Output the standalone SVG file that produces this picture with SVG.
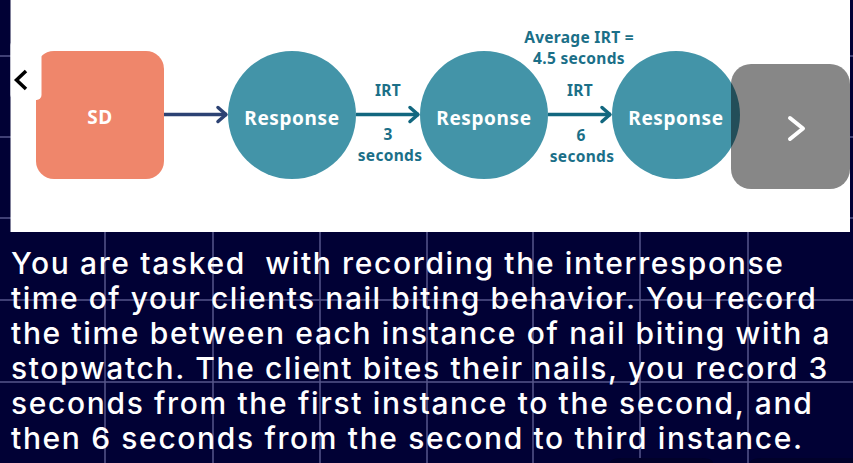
<svg xmlns="http://www.w3.org/2000/svg" width="853" height="463" viewBox="0 0 853 463">
<style>
.grid{stroke:#55558a;stroke-width:1.5;fill:none}
.lbl{font-family:"Noto Sans","Liberation Sans",sans-serif;font-weight:700;font-size:15.500px;letter-spacing:.3px;fill:#1b6f88;text-anchor:middle}
.wh{font-family:"Noto Sans","Liberation Sans",sans-serif;font-weight:700;font-size:19px;letter-spacing:.6px;fill:#fff;text-anchor:middle}
.resp{fill:#4394a8}
.body{font-family:Inter,"Liberation Sans",sans-serif;font-weight:500;font-size:30px;fill:#fff;letter-spacing:1.640px}
</style>
<defs>
<marker id="a1" markerWidth="14" markerHeight="20" refX="12" refY="10" orient="auto" markerUnits="userSpaceOnUse"><path d="M3 3L11 10L3 17" fill="none" stroke="#2c4273" stroke-width="3.500" stroke-linecap="round" stroke-linejoin="round"/></marker>
<marker id="a2" markerWidth="14" markerHeight="20" refX="12" refY="10" orient="auto" markerUnits="userSpaceOnUse"><path d="M3 3L11 10L3 17" fill="none" stroke="#12677f" stroke-width="3.500" stroke-linecap="round" stroke-linejoin="round"/></marker>
</defs>
<rect width="853" height="463" fill="#010135"/>
<g id="grid" class="grid"><path d="M105 0V463M213 0V463M320 0V463M427 0V463M533 0V463M640 0V463M748 0V463M0 56H853M0 137H853M0 218H853M0 300H853M0 382H853"/></g>
<path d="M610 463V462Q612 458 622 458H701Q711 458 713 462V463ZM750 463V462Q752 458 762 458H853V463Z" fill="#01012a"/>
<rect id="panel" x="10.500" y="0" width="839.500" height="232" fill="#fff"/>
<g id="connectors" fill="none" stroke-width="3.500">
<path d="M164 114.500H227" stroke="#2c4273" marker-end="url(#a1)"/>
<path d="M356 114.500H419" stroke="#12677f" marker-end="url(#a2)"/>
<path d="M548 114.500H611" stroke="#12677f" marker-end="url(#a2)"/>
</g>
<g id="sd"><rect x="36" y="51" width="128" height="128" rx="18" fill="#ef866b"/><text class="wh" x="100" y="124">SD</text></g>
<g id="response-1"><circle class="resp" cx="292" cy="115" r="64"/><text class="wh" x="292" y="124.500">Response</text></g>
<g id="response-2"><circle class="resp" cx="484" cy="115" r="64"/><text class="wh" x="484" y="124.500">Response</text></g>
<g id="response-3"><circle class="resp" cx="676" cy="115" r="64"/><text class="wh" x="676" y="124.500">Response</text></g>
<g id="labels-1"><text class="lbl" x="388" y="96">IRT</text><text class="lbl" x="388" y="139.500">3</text><text class="lbl" x="390" y="161">seconds</text></g>
<g id="labels-2"><text class="lbl" x="580" y="96">IRT</text><text class="lbl" x="581" y="141">6</text><text class="lbl" x="582" y="162">seconds</text></g>
<g id="average"><text class="lbl" x="579" y="42.500">Average IRT =</text><text class="lbl" x="579" y="64">4.5 seconds</text></g>
<g id="prev"><rect x="10.500" y="40" width="31" height="60" rx="5" fill="#fff"/><path d="M26 71L16.500 80L26 89" fill="none" stroke="#000" stroke-width="3.500"/></g>
<g id="next"><rect x="731" y="64" width="119" height="125" rx="20" fill="#000" fill-opacity=".47"/><path d="M790 118L803 128.500L790 139" fill="none" stroke="#fff" stroke-width="4" stroke-linecap="round" stroke-linejoin="round"/></g>
<g id="body" class="body">
<text x="11" y="274" xml:space="preserve">You are tasked  with recording the interresponse</text>
<text x="11" y="309" style="letter-spacing:1.530px">time of your clients nail biting behavior. You record</text>
<text x="11" y="344">the time between each instance of nail biting with a</text>
<text x="11" y="379">stopwatch. The client bites their nails, you record 3</text>
<text x="11" y="414">seconds from the first instance to the second, and</text>
<text x="11" y="448.500">then 6 seconds from the second to third instance.</text>
</g>
</svg>
